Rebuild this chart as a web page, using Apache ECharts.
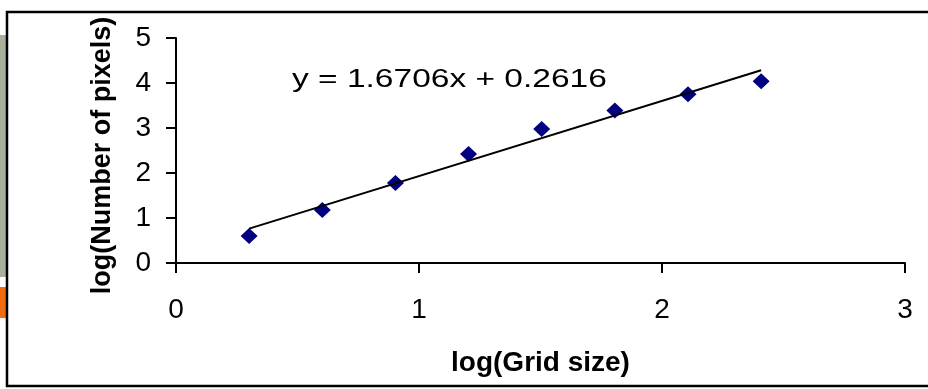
<!DOCTYPE html>
<html>
<head>
<meta charset="utf-8">
<script src="https://cdn.jsdelivr.net/npm/echarts@6/dist/echarts.min.js"></script>
<style>
  html, body { margin: 0; padding: 0; background: #fff; }
  #chart { width: 928px; height: 389px; }
</style>
</head>
<body>
<div id="chart"></div>
<script>
// log(grid size) / log(number of pixels)
var logGrid = [0.301, 0.602, 0.903, 1.204, 1.505, 1.806, 2.107, 2.408];
var logPixels = [0.60, 1.18, 1.78, 2.42, 2.98, 3.39, 3.75, 4.04];
// trend line end points as drawn
var trendX = [0.301, 2.408];
var trendY = [0.764, 4.284];
var equationText = 'y = 1.6706x + 0.2616';
var xTicks = [0, 1, 2, 3];
var yTicks = [0, 1, 2, 3, 4, 5];

var pts = logGrid.map(function (x, i) { return [x, logPixels[i]]; });
var trend = trendX.map(function (x, i) { return [x, trendY[i]]; });

var chart = echarts.init(document.getElementById('chart'));
var font = '"Liberation Sans", Arial, sans-serif';

chart.setOption({
    backgroundColor: '#fff',
    animation: false,
    grid: { left: 176, right: 23, top: 38, bottom: 126 },
    xAxis: {
        type: 'value',
        min: xTicks[0], max: xTicks[xTicks.length - 1], interval: 1,
        name: 'log(Grid size)',
        nameLocation: 'middle',
        nameGap: 86,
        nameTextStyle: { fontFamily: font, fontSize: 28, fontWeight: 'bold', color: '#000' },
        axisLine: { lineStyle: { color: '#000', width: 2 } },
        axisTick: { length: 10, lineStyle: { color: '#000', width: 2 } },
        axisLabel: { margin: 33, fontFamily: font, fontSize: 28, color: '#000' },
        splitLine: { show: false }
    },
    yAxis: {
        type: 'value',
        min: yTicks[0], max: yTicks[yTicks.length - 1], interval: 1,
        name: 'log(Number of pixels)',
        nameLocation: 'middle',
        nameGap: 60,
        nameTextStyle: { fontFamily: font, fontSize: 27, fontWeight: 'bold', color: '#000', padding: [0, 10, 0, 0] },
        axisLine: { show: true, lineStyle: { color: '#000', width: 2 } },
        axisTick: { show: true, length: 10, lineStyle: { color: '#000', width: 2 } },
        axisLabel: { margin: 25, fontFamily: font, fontSize: 28, color: '#000' },
        splitLine: { show: false }
    },
    graphic: [
        // slide decorations on the left edge
        { type: 'rect', shape: { x: 0, y: 35, width: 7, height: 242 }, style: { fill: '#a9b09c' }, silent: true },
        { type: 'rect', shape: { x: 0, y: 287, width: 7, height: 31 }, style: { fill: '#f26b0f' }, silent: true },
        // chart frame
        { type: 'rect', shape: { x: 7, y: 12, width: 940, height: 374 }, style: { fill: 'none', stroke: '#000', lineWidth: 2.5 }, silent: true },
        {
            type: 'text', x: 292, y: 80, scaleX: 1.34,
            style: { text: equationText, fontFamily: font, fontSize: 25, fill: '#000', align: 'left', verticalAlign: 'middle' },
            silent: true
        }
    ],
    series: [
        {
            type: 'scatter',
            data: pts,
            symbol: 'diamond',
            symbolSize: [17, 16],
            itemStyle: { color: '#000080', opacity: 1 },
            z: 2
        },
        {
            type: 'line',
            data: trend,
            showSymbol: false,
            symbol: 'none',
            lineStyle: { color: '#000', width: 2 },
            z: 3
        }
    ]
});
</script>
</body>
</html>
